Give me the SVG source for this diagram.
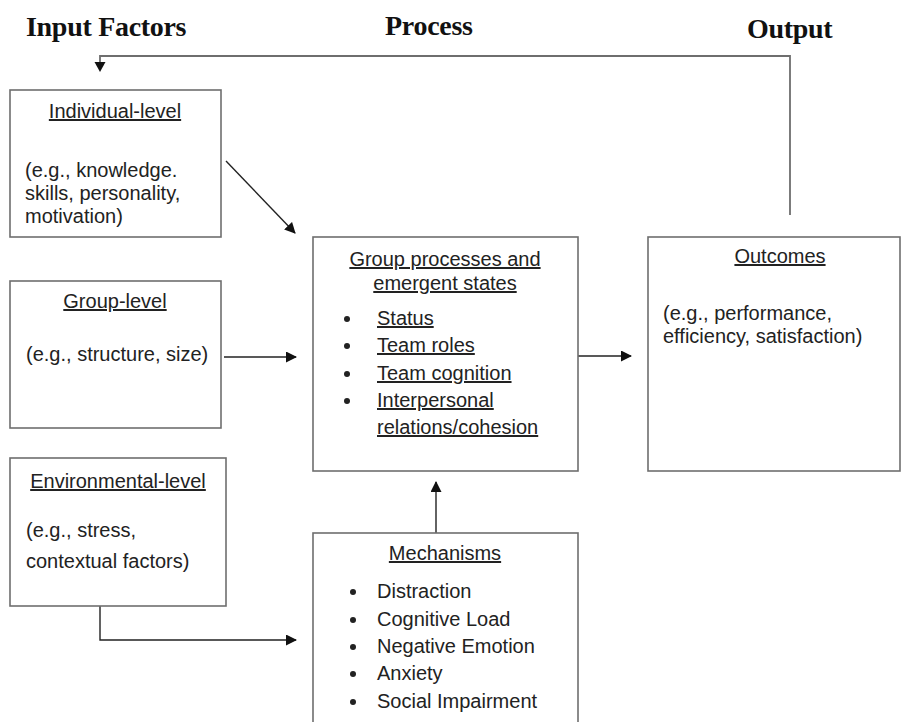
<svg xmlns="http://www.w3.org/2000/svg" width="903" height="722" viewBox="0 0 903 722">
<defs>
<style>
.box{fill:#fff;stroke:#6e6e6e;stroke-width:1.6}
.t{font-family:"Liberation Sans",Arial,sans-serif;font-size:20px;fill:#222}
.u{text-decoration:underline}
.c{text-anchor:middle}
.h{font-family:"Liberation Serif","Times New Roman",serif;font-size:28px;font-weight:bold;fill:#111;letter-spacing:-0.3px}
.ln{fill:none;stroke:#222;stroke-width:1.4}
.fb{fill:none;stroke:#6e6e6e;stroke-width:1.8}
</style>
<marker id="ah" markerWidth="11" markerHeight="11" refX="10" refY="5.5" orient="auto" markerUnits="userSpaceOnUse">
<path d="M0,0 L11,5.5 L0,11 Z" fill="#111"/>
</marker>
</defs>
<rect width="903" height="722" fill="#fff"/>
<g id="titles">
<text class="h" x="26" y="36">Input Factors</text>
<text class="h" x="385" y="35">Process</text>
<text class="h" x="747" y="38">Output</text>
</g>
<g id="connectors">
<path class="fb" d="M790,215 V56 H100 V63"/>
<path d="M94.5,62 L105.5,62 L100,72 Z" fill="#111"/>
<line class="ln" x1="226" y1="161" x2="295" y2="233" marker-end="url(#ah)"/>
<line class="ln" x1="224" y1="357" x2="296" y2="357" marker-end="url(#ah)"/>
<path class="ln" d="M100,606 V640 H296" marker-end="url(#ah)"/>
<line class="ln" x1="436" y1="533" x2="436" y2="482" marker-end="url(#ah)"/>
<line class="ln" x1="578" y1="356" x2="631" y2="356" marker-end="url(#ah)"/>
</g>
<g id="individual">
<rect class="box" x="10" y="90" width="211" height="147"/>
<text class="t u c" x="115" y="118">Individual-level</text>
<text class="t" x="25" y="177">(e.g., knowledge.</text>
<text class="t" x="25" y="200">skills, personality,</text>
<text class="t" x="25" y="223">motivation)</text>
</g>
<g id="group-level">
<rect class="box" x="10" y="281" width="211" height="147"/>
<text class="t u c" x="115" y="308">Group-level</text>
<text class="t" x="26" y="361">(e.g., structure, size)</text>
</g>
<g id="environmental">
<rect class="box" x="10" y="458" width="216" height="148"/>
<text class="t u c" x="118" y="488">Environmental-level</text>
<text class="t" x="26" y="537">(e.g., stress,</text>
<text class="t" x="26" y="568">contextual factors)</text>
</g>
<g id="group-processes">
<rect class="box" x="313" y="237" width="265" height="234"/>
<text class="t u c" x="445" y="266">Group processes and</text>
<text class="t u c" x="445" y="290">emergent states</text>
<circle cx="347" cy="319" r="3" fill="#222"/><text class="t u" x="377" y="325">Status</text>
<circle cx="347" cy="346" r="3" fill="#222"/><text class="t u" x="377" y="352">Team roles</text>
<circle cx="347" cy="374" r="3" fill="#222"/><text class="t u" x="377" y="380">Team cognition</text>
<circle cx="347" cy="401" r="3" fill="#222"/><text class="t u" x="377" y="407">Interpersonal</text>
<text class="t u" x="377" y="434">relations/cohesion</text>
</g>
<g id="outcomes">
<rect class="box" x="648" y="237" width="252" height="234"/>
<text class="t u c" x="780" y="263">Outcomes</text>
<text class="t" x="663" y="320">(e.g., performance,</text>
<text class="t" x="663" y="343">efficiency, satisfaction)</text>
</g>
<g id="mechanisms">
<rect class="box" x="313" y="533" width="265" height="200"/>
<text class="t u c" x="445" y="560">Mechanisms</text>
<circle cx="353" cy="592" r="3" fill="#222"/><text class="t" x="377" y="598">Distraction</text>
<circle cx="353" cy="620" r="3" fill="#222"/><text class="t" x="377" y="626">Cognitive Load</text>
<circle cx="353" cy="647" r="3" fill="#222"/><text class="t" x="377" y="653">Negative Emotion</text>
<circle cx="353" cy="674" r="3" fill="#222"/><text class="t" x="377" y="680">Anxiety</text>
<circle cx="353" cy="702" r="3" fill="#222"/><text class="t" x="377" y="708">Social Impairment</text>
</g>
</svg>
